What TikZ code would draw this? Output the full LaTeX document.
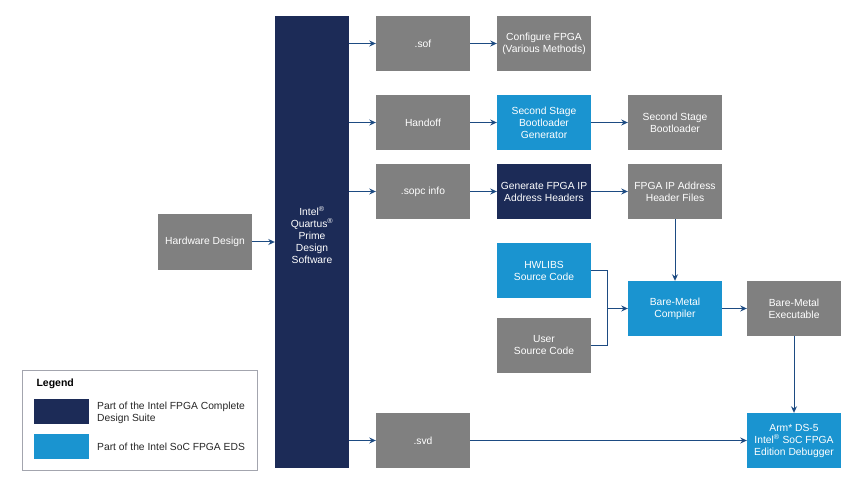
\documentclass[tikz,border=0pt]{standalone}
\usepackage{fontspec}
\setmainfont{Liberation Sans}
\usepackage{xcolor}
\usetikzlibrary{positioning,calc,arrows.meta}

\definecolor{boxgray}{HTML}{808080}
\definecolor{intelnavy}{HTML}{1C2B57}
\definecolor{intelblue}{HTML}{1A94D0}
\definecolor{linkblue}{HTML}{1D4B82}
\definecolor{legendline}{HTML}{A3A5AE}

\begin{document}
\begin{tikzpicture}[x=1pt,y=-1pt,font=\fontsize{10.3}{12}\selectfont,
        arr/.style={-{Stealth[length=6.5pt,width=6pt]},draw=linkblue,fill=linkblue,line width=1pt},
        link/.style={draw=linkblue,line width=1pt},
        main node/.style={rectangle, align=center, text=white, minimum width=94pt, minimum height=55pt, inner sep=1pt},
        gray node/.style={main node, fill=boxgray},
        eds node/.style={main node, fill=intelblue},
        suite node/.style={main node, fill=intelnavy}]

\useasboundingbox (0,0) rectangle (864,486);

\node[gray node] (hw) at (205,242) {Hardware Design};
\node[suite node, minimum width=74pt, minimum height=452pt,
    label={[text=white, align=center, yshift=7pt]center:Intel\textsuperscript{\textregistered}\\Quartus\textsuperscript{\textregistered}\\Prime\\Design\\Software}] (quartus) at (312,242) {};

\node[gray node] (sof) at (423,43.5) {.sof};
\node[gray node] (handoff) at (423,122.5) {Handoff};
\node[gray node] (sopc) at (423,191.5) {.sopc info};
\node[gray node] (svd) at (423,440.5) {.svd};

\node[gray node] (config) at (544,43.5) {Configure FPGA\\(Various Methods)};
\node[eds node] (ssbg) at (544,122.5) {Second Stage\\Bootloader\\Generator};
\node[suite node] (genip) at (544,191.5) {Generate FPGA IP\\Address Headers};
\node[eds node] (hwlibs) at (544,270.5) {HWLIBS\\Source Code};
\node[gray node] (user) at (544,345.5) {User\\Source Code};

\node[gray node] (ssb) at (675,122.5) {Second Stage\\Bootloader};
\node[gray node] (ipfiles) at (675,191.5) {FPGA IP Address\\Header Files};
\node[eds node] (compiler) at (675,308.5) {Bare-Metal\\Compiler};

\node[gray node] (exe) at (794,308.5) {Bare-Metal\\Executable};
\node[eds node] (debugger) at (794,440.5) {Arm* DS-5\\Intel\textsuperscript{\textregistered} SoC FPGA\\Edition Debugger};

\coordinate (join) at (607,308.5);

\draw[arr] (hw.east) -- (hw.east -| quartus.west);
\draw[arr] (quartus.east |- sof.west) -- (sof.west);
\draw[arr] (quartus.east |- handoff.west) -- (handoff.west);
\draw[arr] (quartus.east |- sopc.west) -- (sopc.west);
\draw[arr] (quartus.east |- svd.west) -- (svd.west);

\draw[arr] (sof.east) -- (config.west);
\draw[arr] (handoff.east) -- (ssbg.west);
\draw[arr] (ssbg.east) -- (ssb.west);
\draw[arr] (sopc.east) -- (genip.west);
\draw[arr] (genip.east) -- (ipfiles.west);
\draw[arr] (ipfiles.south) -- (compiler.north);

\draw[link] (hwlibs.east) -| (join);
\draw[link] (user.east) -| (join);
\draw[arr] (join) -- (compiler.west);
\draw[arr] (compiler.east) -- (exe.west);
\draw[arr] (exe.south) -- (exe.south |- debugger.north);
\draw[arr] (svd.east) -- (debugger.west);

\node[draw=legendline, line width=0.8pt, minimum width=235pt, minimum height=100pt] (legend) at (139.5,420) {};
\node[anchor=west, font=\fontsize{10.5}{12}\selectfont\bfseries] (legendtitle) at (33,384) {Legend};
\node[fill=intelnavy, minimum width=55pt, minimum height=25pt, inner sep=0pt] (suitekey) at (61.5,411.5) {};
\node[fill=intelblue, minimum width=55pt, minimum height=25pt, inner sep=0pt] (edskey) at (61.5,446.5) {};
\node[anchor=west, align=left, text=black!85, inner sep=0pt] (suitetext) at (97,413)
    {Part of the Intel FPGA Complete\\Design Suite};
\node[anchor=west, text=black!85, inner sep=0pt] (edstext) at (97,446.5) {Part of the Intel SoC FPGA EDS};

\end{tikzpicture}
\end{document}
